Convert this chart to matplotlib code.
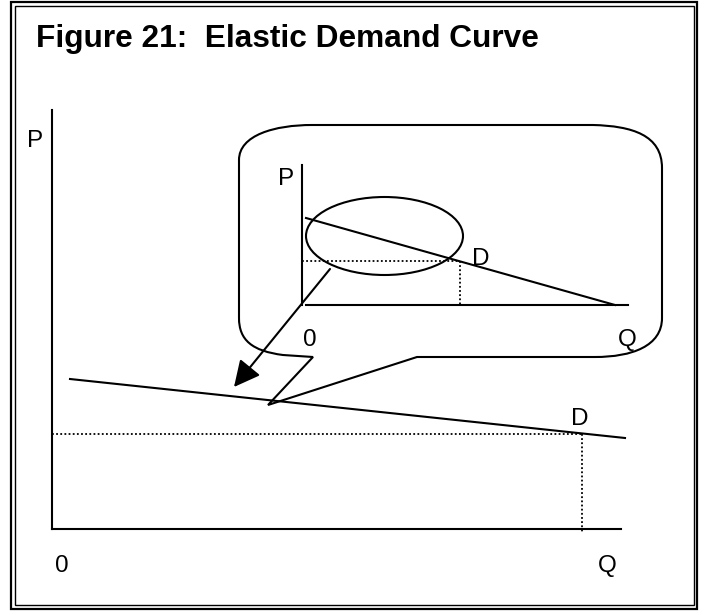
import matplotlib.pyplot as plt
from matplotlib.patches import Ellipse, Rectangle, PathPatch
from matplotlib.path import Path

# everything is laid out on a 708 x 615 canvas (y grows downward)
TITLE = "Figure 21:  Elastic Demand Curve"

# main diagram
main_p_axis = ([52, 52], [110, 529])
main_q_axis = ([52, 621], [529, 529])
main_demand = ([70, 625], [379, 438])
main_point = (582, 434)

# magnified inset diagram
inset_p_axis = ([302, 302], [165, 305])
inset_q_axis = ([306, 628], [305, 305])
inset_demand = ([306, 615], [218, 305])
inset_point = (460, 261)
inset_ellipse = (384.5, 236, 157, 78)

# callout bubble outline
bubble_verts = [
    (239, 160), (239, 135), (275, 125), (312, 125),
    (593, 125), (632, 126), (662, 135), (662, 168),
    (662, 318), (662, 346), (632, 357), (595, 357),
    (417, 357), (268, 405), (313, 357), (283, 355),
    (252, 351), (239, 340), (239, 318), (239, 160),
]
bubble_codes = [Path.MOVETO, Path.CURVE4, Path.CURVE4, Path.CURVE4,
                Path.LINETO, Path.CURVE4, Path.CURVE4, Path.CURVE4,
                Path.LINETO, Path.CURVE4, Path.CURVE4, Path.CURVE4,
                Path.LINETO, Path.LINETO, Path.LINETO, Path.LINETO,
                Path.CURVE4, Path.CURVE4, Path.CURVE4, Path.CLOSEPOLY]

arrow_start = (330, 269)
arrow_end = (234, 387)

# labels: (text, x, baseline y)
labels = [
    ("P", 35, 146.7), ("0", 61.5, 572), ("Q", 607, 572), ("D", 579.5, 425),
    ("P", 286, 185), ("D", 481, 265), ("0", 309.5, 346), ("Q", 627.5, 346),
]

LW = 1.5
DOTS = (0, (1, 1.3))

fig = plt.figure(figsize=(7.08, 6.15), dpi=100)
ax = fig.add_axes([0, 0, 1, 1])
ax.set_xlim(0, 708)
ax.set_ylim(615, 0)
ax.axis("off")

# double frame
ax.add_patch(Rectangle((10.5, 2), 686.5, 607, fill=False, lw=1.6, ec="black"))
ax.add_patch(Rectangle((15, 5.5), 678.5, 599, fill=False, lw=1.0, ec="black"))

ax.text(36, 46.7, TITLE, fontfamily="Liberation Sans", fontweight="bold",
        fontsize=22.8, va="baseline", ha="left")

# main diagram
ax.plot(*main_p_axis, color="black", lw=LW)
ax.plot(*main_q_axis, color="black", lw=LW)
ax.plot(*main_demand, color="black", lw=LW)
ax.plot([main_p_axis[0][0], main_point[0]], [main_point[1], main_point[1]],
        color="black", lw=1.3, ls=DOTS)
ax.plot([main_point[0], main_point[0]], [main_point[1], main_q_axis[1][0] + 4],
        color="black", lw=1.3, ls=DOTS)

# callout
ax.add_patch(PathPatch(Path(bubble_verts, bubble_codes), fill=False, lw=LW, ec="black"))

# inset diagram
ax.plot(*inset_p_axis, color="black", lw=LW)
ax.plot(*inset_q_axis, color="black", lw=LW)
ax.plot(*inset_demand, color="black", lw=LW)
ax.plot([inset_p_axis[0][0], inset_point[0]], [inset_point[1], inset_point[1]],
        color="black", lw=1.3, ls=DOTS)
ax.plot([inset_point[0], inset_point[0]], [inset_point[1], inset_q_axis[1][0]],
        color="black", lw=1.3, ls=DOTS)
cx, cy, w, h = inset_ellipse
ax.add_patch(Ellipse((cx, cy), w, h, fill=False, lw=LW, ec="black"))

ax.annotate("", xy=arrow_end, xytext=arrow_start,
            arrowprops=dict(arrowstyle="-|>,head_length=0.8,head_width=0.4",
                            mutation_scale=20, lw=LW, color="black",
                            shrinkA=0, shrinkB=0))

for txt, x, y in labels:
    ax.text(x, y, txt, fontfamily="Liberation Sans", fontsize=17.5,
            ha="center", va="baseline")

fig.savefig("out.png", dpi=100)
